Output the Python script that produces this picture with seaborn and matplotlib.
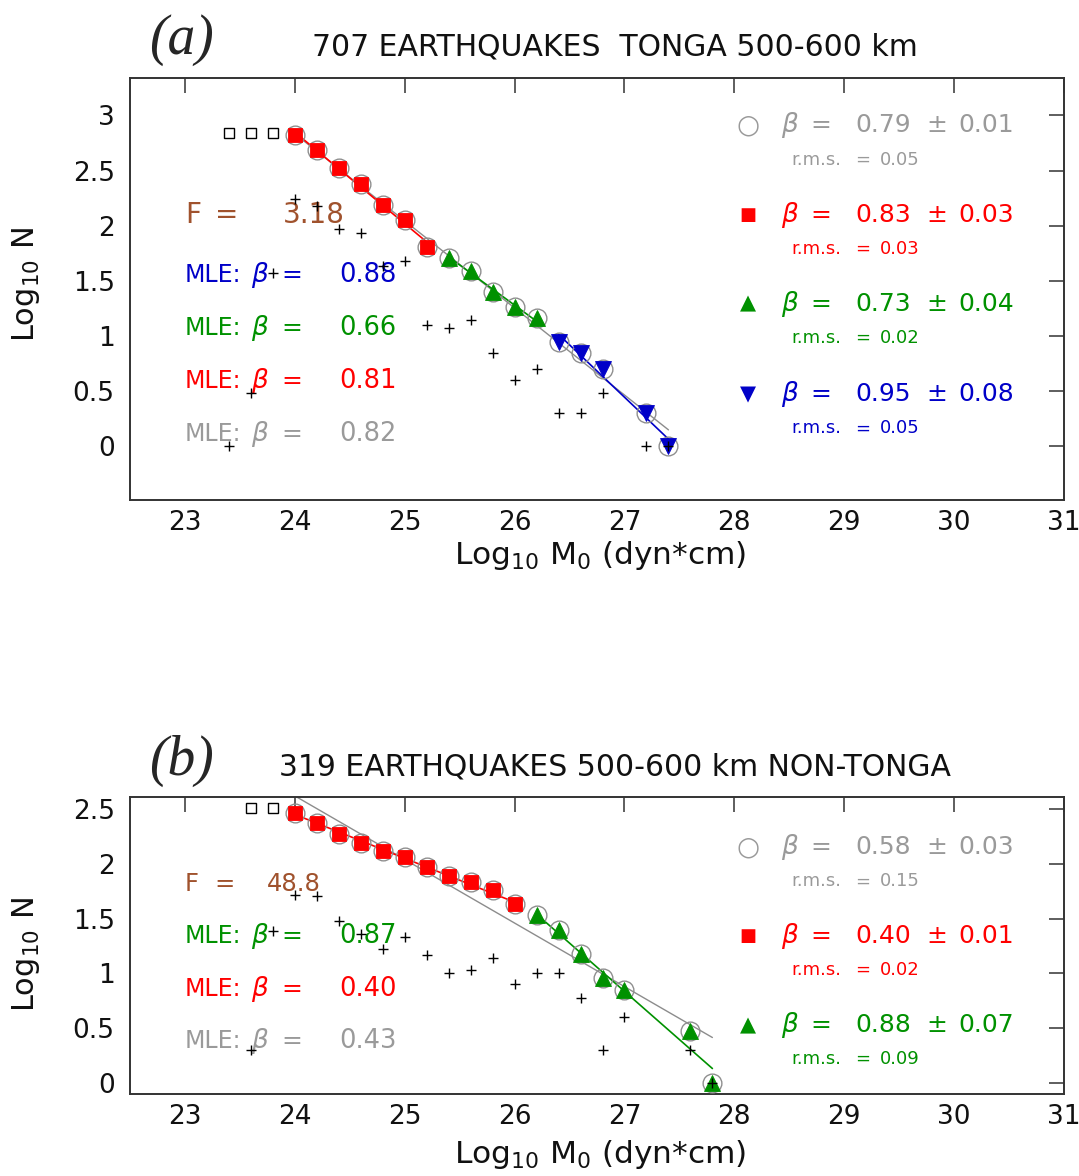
import numpy as np
import pandas as pd
import matplotlib
matplotlib.use("Agg")
import matplotlib.pyplot as plt
import seaborn as sns

# ---------------- data : panel (a) TONGA ----------------
a_mag = [24.0, 24.2, 24.4, 24.6, 24.8, 25.0, 25.2, 25.4, 25.6, 25.8, 26.0,
         26.2, 26.4, 26.6, 26.8, 27.2, 27.4]
a_logN = [2.82, 2.684, 2.52, 2.378, 2.19, 2.053, 1.805, 1.705, 1.592, 1.40,
          1.265, 1.159, 0.946, 0.84, 0.70, 0.30, 0.0]
a_segment = ["red"] * 7 + ["green"] * 5 + ["blue"] * 5
a_incompl_mag = [23.4, 23.6, 23.8]
a_incompl_logN = [2.845, 2.845, 2.845]
a_bin_mag = [23.4, 23.6, 23.8, 24.0, 24.2, 24.4, 24.6, 24.8, 25.0, 25.2, 25.4,
             25.6, 25.8, 26.0, 26.2, 26.4, 26.6, 26.8, 27.2, 27.4]
a_bin_logN = [0.0, 0.477, 1.574, 2.24, 2.175, 1.97, 1.93, 1.63, 1.68, 1.10,
              1.07, 1.14, 0.84, 0.60, 0.695, 0.30, 0.30, 0.477, 0.0, 0.0]
a_seg_names = ["red", "green", "blue"]
a_seg_beta = [0.83, 0.73, 0.95]
a_seg_err = [0.03, 0.04, 0.08]
a_seg_rms = [0.03, 0.02, 0.05]
a_all_beta, a_all_err, a_all_rms = 0.79, 0.01, 0.05
a_F = "3.18"
a_mle_names = ["blue", "green", "red", "gray"]
a_mle_vals = ["0.88", "0.66", "0.81", "0.82"]
a_title = "707 EARTHQUAKES  TONGA 500-600 km"

# ---------------- data : panel (b) NON-TONGA ----------------
b_mag = [24.0, 24.2, 24.4, 24.6, 24.8, 25.0, 25.2, 25.4, 25.6, 25.8, 26.0,
         26.2, 26.4, 26.6, 26.8, 27.0, 27.6, 27.8]
b_logN = [2.46, 2.375, 2.27, 2.19, 2.12, 2.065, 1.967, 1.89, 1.83, 1.76, 1.63,
          1.53, 1.40, 1.18, 0.954, 0.845, 0.477, 0.0]
b_segment = ["red"] * 11 + ["green"] * 7
b_incompl_mag = [23.6, 23.8]
b_incompl_logN = [2.505, 2.505]
b_bin_mag = [23.6, 23.8, 24.0, 24.2, 24.4, 24.6, 24.8, 25.0, 25.2, 25.4, 25.6,
             25.8, 26.0, 26.2, 26.4, 26.6, 26.8, 27.0, 27.6, 27.8]
b_bin_logN = [0.30, 1.39, 1.714, 1.708, 1.48, 1.36, 1.22, 1.33, 1.17, 1.0,
              1.03, 1.14, 0.90, 1.0, 1.0, 0.78, 0.30, 0.60, 0.30, 0.0]
b_seg_names = ["red", "green"]
b_seg_beta = [0.40, 0.88]
b_seg_err = [0.01, 0.07]
b_seg_rms = [0.02, 0.09]
b_all_beta, b_all_err, b_all_rms = 0.58, 0.03, 0.15
b_F = "48.8"
b_mle_names = ["green", "red", "gray"]
b_mle_vals = ["0.87", "0.40", "0.43"]
b_title = "319 EARTHQUAKES 500-600 km NON-TONGA"

x_ticks = [23, 24, 25, 26, 27, 28, 29, 30, 31]
a_yticks = [0, 0.5, 1, 1.5, 2, 2.5, 3]
a_yticklabels = ["0", "0.5", "1", "1.5", "2", "2.5", "3"]
b_yticks = [0, 0.5, 1, 1.5, 2, 2.5]
b_yticklabels = ["0", "0.5", "1", "1.5", "2", "2.5"]

# ---------------- style ----------------
sns.set_theme(style="white")
plt.rcParams["font.family"] = ["DejaVu Sans"]
plt.rcParams["mathtext.fontset"] = "dejavusans"

COL = {"red": "#ff0000", "green": "#009100", "blue": "#0000c8",
       "gray": "#9a9a9a", "brown": "#a0522d"}
MARK = {"red": "s", "green": "^", "blue": "v"}
MSIZE = {"red": 10, "green": 11.5, "blue": 11.5}
GLYPH = {"gray": ("\u25cb", 19), "red": ("\u25a0", 13),
         "green": ("\u25b2", 15), "blue": ("\u25bc", 15)}

fig = plt.figure(figsize=(10.79, 11.76), dpi=100)
ax_a = fig.add_axes([0.1205, 0.5748, 0.8656, 0.3589])
ax_b = fig.add_axes([0.1205, 0.0697, 0.8656, 0.2526])


def fit_line(mag, logN, beta):
    mag = np.asarray(mag)
    logN = np.asarray(logN)
    icpt = np.mean(logN + beta * mag)
    xs = np.array([mag.min(), mag.max()])
    return xs, icpt - beta * xs


def draw_panel(ax, mag, logN, segment, inc_mag, inc_logN, bin_mag, bin_logN,
               seg_names, seg_beta, all_beta, ylim, yticks, yticklabels):
    df = pd.DataFrame({"mag": mag, "logN": logN, "seg": segment})
    # overall fit (gray)
    xs, ys = fit_line(df.mag, df.logN, all_beta)
    sns.lineplot(x=xs, y=ys, color="#8c8c8c", lw=1.0, ax=ax, zorder=2)
    # segment fits
    for name, beta in zip(seg_names, seg_beta):
        d = df[df.seg == name]
        xs, ys = fit_line(d.mag, d.logN, beta)
        sns.lineplot(x=xs, y=ys, color=COL[name], lw=1.2, ax=ax, zorder=3)
    # gray open circles on all points
    sns.lineplot(data=df, x="mag", y="logN", marker="o", linestyle="none",
                 markersize=13.5, markerfacecolor="none",
                 markeredgecolor="#8f8f8f", markeredgewidth=1.0,
                 color="#8f8f8f", ax=ax, zorder=4)
    # coloured segment markers
    for name in seg_names:
        d = df[df.seg == name]
        sns.lineplot(data=d, x="mag", y="logN", marker=MARK[name],
                     linestyle="none", markersize=MSIZE[name],
                     markerfacecolor=COL[name], markeredgecolor=COL[name],
                     markeredgewidth=0.6, color=COL[name], ax=ax, zorder=5)
    # incomplete cumulative (open black squares)
    sns.lineplot(x=inc_mag, y=inc_logN, marker="s", linestyle="none",
                 markersize=6.5, markerfacecolor="none",
                 markeredgecolor="black", markeredgewidth=1.0,
                 color="black", ax=ax, zorder=5)
    # non-cumulative (plus signs)
    sns.lineplot(x=bin_mag, y=bin_logN, marker="+", linestyle="none",
                 markersize=7, markeredgecolor="black", markeredgewidth=1.0,
                 color="black", ax=ax, zorder=6)

    ax.set_xlim(22.5, 31)
    ax.set_ylim(*ylim)
    ax.set_xticks(x_ticks)
    ax.set_xticklabels([str(t) for t in x_ticks])
    ax.set_yticks(yticks)
    ax.set_yticklabels(yticklabels)
    ax.tick_params(axis="both", which="major", direction="in", length=11,
                   width=1.1, color="#333333", top=True, right=True,
                   labelsize=19, labelcolor="#111111")
    ax.tick_params(axis="x", pad=7)
    ax.tick_params(axis="y", pad=11)
    for s in ax.spines.values():
        s.set_color("#333333")
        s.set_linewidth(1.4)
    ax.set_xlabel(r"Log$_{10}$ M$_0$ (dyn*cm)", fontsize=22.5, color="#111111")
    ax.set_ylabel(r"Log$_{10}$ N", fontsize=22, color="#111111")
    ax.grid(False)


def left_text(ax, F, Ffs, Fx, ys, mle_names, mle_vals):
    fs = 17
    ax.text(23.0, ys[0], "F", color=COL["brown"], fontsize=Ffs, va="center")
    ax.text(23.27, ys[0], "=", color=COL["brown"], fontsize=Ffs, va="center")
    ax.text(Fx, ys[0], F, color=COL["brown"], fontsize=Ffs, va="center")
    for y, name, val in zip(ys[1:], mle_names, mle_vals):
        c = COL[name]
        ax.text(23.0, y, "MLE:", color=c, fontsize=fs, va="center")
        ax.text(23.6, y, r"$\beta$", color=c, fontsize=fs + 2, va="center")
        ax.text(23.88, y, "=", color=c, fontsize=fs + 1, va="center")
        ax.text(24.4, y, val, color=c, fontsize=18.5, va="center")


def right_text(ax, ys, names, betas, errs, rmss):
    for y, name, b, e, r in zip(ys, names, betas, errs, rmss):
        c = COL[name]
        g, gs = GLYPH[name]
        ax.text(28.12, y, g, color=c, fontsize=gs, va="center", ha="center")
        ax.text(28.42, y, r"$\beta$", color=c, fontsize=19, va="center")
        ax.text(28.69, y, "=", color=c, fontsize=18, va="center")
        ax.text(29.10, y, f"{b:.2f}", color=c, fontsize=18, va="center")
        ax.text(29.75, y, "\u00b1", color=c, fontsize=18, va="center")
        ax.text(30.04, y, f"{e:.2f}", color=c, fontsize=18, va="center")
        ax.text(28.52, y - 0.31, "r.m.s.", color=c, fontsize=13, va="center")
        ax.text(29.10, y - 0.31, "=", color=c, fontsize=13, va="center")
        ax.text(29.32, y - 0.31, f"{r:.2f}", color=c, fontsize=13,
                va="center")


draw_panel(ax_a, a_mag, a_logN, a_segment, a_incompl_mag, a_incompl_logN,
           a_bin_mag, a_bin_logN, a_seg_names, a_seg_beta, a_all_beta,
           (-0.49, 3.34), a_yticks, a_yticklabels)
draw_panel(ax_b, b_mag, b_logN, b_segment, b_incompl_mag, b_incompl_logN,
           b_bin_mag, b_bin_logN, b_seg_names, b_seg_beta, b_all_beta,
           (-0.1, 2.61), b_yticks, b_yticklabels)

left_text(ax_a, a_F, 20, 23.89, [2.10, 1.55, 1.07, 0.59, 0.11],
          a_mle_names, a_mle_vals)
left_text(ax_b, b_F, 17.5, 23.75, [1.82, 1.34, 0.86, 0.38],
          b_mle_names, b_mle_vals)

right_text(ax_a, [2.91, 2.10, 1.29, 0.47], ["gray"] + a_seg_names,
           [a_all_beta] + a_seg_beta, [a_all_err] + a_seg_err,
           [a_all_rms] + a_seg_rms)
right_text(ax_b, [2.15, 1.34, 0.53], ["gray"] + b_seg_names,
           [b_all_beta] + b_seg_beta, [b_all_err] + b_seg_err,
           [b_all_rms] + b_seg_rms)

ax_a.xaxis.set_label_coords(0.503, -0.093)
ax_a.yaxis.set_label_coords(-0.094, 0.51)
ax_b.xaxis.set_label_coords(0.503, -0.148)
ax_b.yaxis.set_label_coords(-0.094, 0.47)

fig.text(0.168, 0.966, "(a)", family=["Liberation Serif", "DejaVu Serif"],
         style="italic", fontsize=40, ha="center", va="center")
fig.text(0.570, 0.960, a_title, fontsize=21.5, ha="center", va="center",
         color="#111111")
fig.text(0.168, 0.353, "(b)", family=["Liberation Serif", "DejaVu Serif"],
         style="italic", fontsize=40, ha="center", va="center")
fig.text(0.570, 0.348, b_title, fontsize=21.5, ha="center", va="center",
         color="#111111")

fig.savefig("out.png", dpi=100, facecolor="white")
